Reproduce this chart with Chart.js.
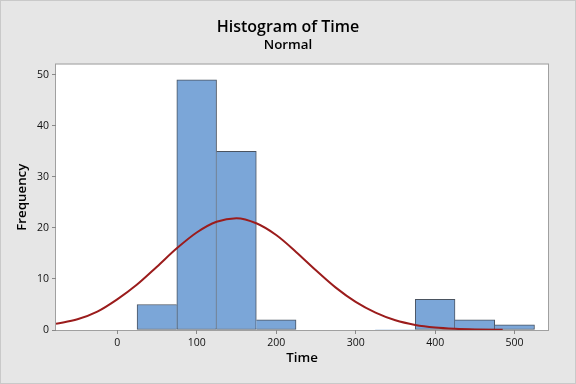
<!DOCTYPE html>
<html lang="en">
<head>
  <meta charset="UTF-8" />
  <title>Histogram of Time</title>
  <style>
    html, body {
      margin: 0;
      padding: 0;
      background: #e6e6e6;
    }
    #wrap {
      width: 576px;
      height: 384px;
    }
  </style>
</head>
<body>
  <div id="wrap"><canvas id="histChart" width="576" height="384"></canvas></div>

  <script src="https://cdn.jsdelivr.net/npm/chart.js"></script>
  <script>
    // histogram bins: midpoints (bin width 50) and counts
    const binMids = [50, 100, 150, 200, 250, 300, 350, 400, 450, 500];
    const binCounts = [5, 49, 35, 2, 0, 0, 0, 6, 2, 1];

    // fitted normal curve
    const curveX = [-77, -50, -25, 0, 25, 50, 75, 100, 125, 150, 175, 200, 225, 250, 275, 300, 325, 350, 375, 400, 425, 450, 485];
    const curveY = [1.2, 2.1, 3.6, 6.0, 8.9, 12.4, 16.0, 19.1, 21.2, 21.9, 20.9, 18.6, 15.3, 11.7, 8.3, 5.5, 3.4, 1.9, 1.0, 0.5, 0.25, 0.12, 0.04];

    const xTicks = [0, 100, 200, 300, 400, 500];
    const yTicks = [0, 10, 20, 30, 40, 50];

    Chart.defaults.font.family = "'Open Sans', sans-serif";
    Chart.defaults.color = '#111';

    // gray page, white plot area with a thin frame
    const framePlugin = {
      id: 'frame',
      beforeDraw(chart) {
        const { ctx, width, height, chartArea: a } = chart;
        ctx.save();
        ctx.fillStyle = '#e6e6e6';
        ctx.fillRect(0, 0, width, height);
        ctx.strokeStyle = '#c9c9c9';
        ctx.lineWidth = 1;
        ctx.strokeRect(0.5, 0.5, width - 1, height - 1);
        ctx.fillStyle = '#ffffff';
        ctx.fillRect(a.left, a.top, a.right - a.left, a.bottom - a.top);
        ctx.strokeStyle = '#a0a0a0';
        ctx.strokeRect(a.left - 0.5, a.top - 0.5, a.right - a.left + 1, a.bottom - a.top + 1);
        ctx.restore();
      }
    };

    // one shared 1px edge between neighbouring bars, drawn by the taller one
    function barBorder(c) {
      const d = c.dataset.data;
      const i = c.dataIndex;
      const v = d[i].y;
      const prev = i > 0 ? d[i - 1].y : 0;
      const next = i < d.length - 1 ? d[i + 1].y : 0;
      return {
        top: 1,
        bottom: 1,
        left: v > prev ? 1 : 0,
        right: v >= next ? 1 : 0
      };
    }

    const tickFont = { size: 10.5 };
    const titleFont = { size: 13.33, weight: '600' };

    new Chart(document.getElementById('histChart'), {
      type: 'bar',
      data: {
        datasets: [
          {
            type: 'line',
            data: curveX.map((x, i) => ({ x: x, y: curveY[i] })),
            borderColor: '#9b1c1c',
            borderWidth: 2,
            pointRadius: 0,
            cubicInterpolationMode: 'monotone',
            fill: false,
            order: 0
          },
          {
            type: 'bar',
            data: binMids.map((x, i) => ({ x: x, y: binCounts[i] })),
            backgroundColor: '#7ba6d8',
            borderColor: '#4a5360',
            borderWidth: barBorder,
            borderSkipped: false,
            barPercentage: 1,
            categoryPercentage: 1,
            order: 1
          }
        ]
      },
      options: {
        responsive: false,
        devicePixelRatio: 1,
        animation: false,
        layout: { padding: 0 },
        plugins: {
          legend: { display: false },
          tooltip: { enabled: false },
          title: {
            display: true,
            text: 'Histogram of Time',
            color: '#000',
            font: { size: 16, weight: '600' },
            padding: { top: 18, bottom: 0 }
          },
          subtitle: {
            display: true,
            text: 'Normal',
            color: '#000',
            font: { size: 13.33, weight: '600' },
            padding: { top: 0, bottom: 11.3 }
          }
        },
        scales: {
          x: {
            type: 'linear',
            position: 'bottom',
            min: -77,
            max: 542,
            offset: false,
            afterBuildTicks: s => { s.ticks = xTicks.map(v => ({ value: v })); },
            afterFit: s => { s.height = 54; },
            ticks: { font: tickFont, padding: 3, maxRotation: 0 },
            grid: { display: true, drawOnChartArea: false, tickLength: 4, color: '#888', offset: false },
            border: { display: false },
            title: { display: true, text: 'Time', color: '#000', font: titleFont, padding: { top: 0, bottom: 18 } }
          },
          y: {
            position: 'left',
            min: 0,
            max: 52,
            afterBuildTicks: s => { s.ticks = yTicks.map(v => ({ value: v })); },
            afterFit: s => { s.width = 56; },
            ticks: { font: tickFont, padding: 3 },
            grid: { display: true, drawOnChartArea: false, tickLength: 4, color: '#888' },
            border: { display: false },
            title: { display: true, text: 'Frequency', color: '#000', font: titleFont, padding: { top: 14.5, bottom: 0 } }
          },
          yr: {
            position: 'right',
            display: true,
            afterFit: s => { s.width = 28; },
            ticks: { display: false },
            grid: { display: false },
            border: { display: false }
          }
        }
      },
      plugins: [framePlugin]
    });
  </script>
</body>
</html>
